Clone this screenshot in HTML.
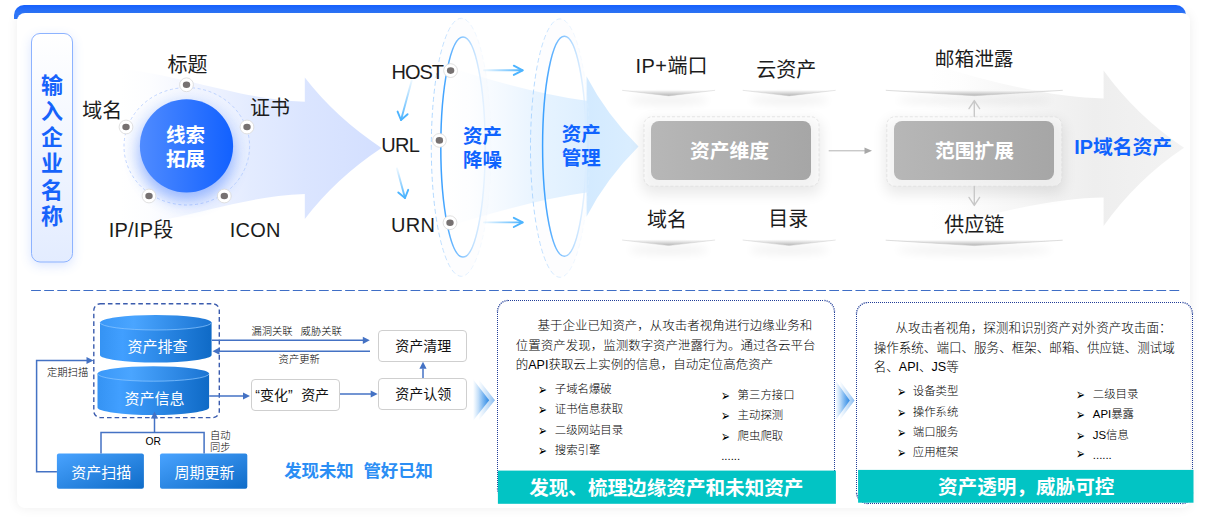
<!DOCTYPE html>
<html lang="zh-CN">
<head>
<meta charset="utf-8">
<title>资产管理流程</title>
<style>
html,body{margin:0;padding:0;}
body{width:1207px;height:521px;position:relative;overflow:hidden;background:#fff;
  font-family:"Liberation Sans","Noto Sans CJK SC",sans-serif;color:#1f1f1f;}
#bluebar{position:absolute;left:14px;top:5px;width:1172px;height:13.5px;border-radius:10px 10px 0 0;
  background:linear-gradient(180deg,#1761ff,#2f77fa 8px);}
#card{position:absolute;left:16.5px;top:12.5px;width:1173.5px;height:495.5px;border-radius:8px;background:#fff;
  box-shadow:0 0 12px rgba(0,0,0,0.07);}
#art{position:absolute;left:0;top:0;width:1207px;height:521px;}
.t{position:absolute;white-space:nowrap;line-height:1;transform:translate(-50%,-50%);}
.l{position:absolute;white-space:nowrap;line-height:1;transform:translate(0,-50%);}
.big{font-size:20px;color:#1c1c1c;}
.bb{font-size:19.5px;font-weight:700;color:#0f63fe;line-height:24px;text-align:center;}
.wb{font-size:19.8px;font-weight:700;color:#fff;}
.sm{font-size:10.3px;color:#000;font-weight:300;}
.bx{position:absolute;box-sizing:border-box;border:1px solid #cfcfcf;border-radius:4px;background:#fff;}
.bt{font-size:14px;color:#111;}
.cw{font-size:15px;color:#fff;font-weight:400;}
.para{position:absolute;font-size:12.45px;line-height:19.3px;color:#000;font-weight:300;white-space:nowrap;}
.bl{font-size:11.4px;color:#000;font-weight:300;}
.ar{font-size:11.5px;color:#000;font-family:"DejaVu Sans",sans-serif;transform:translate(0,-50%) scale(0.92,1.4);transform-origin:0 50%;}
.teal{position:absolute;background:#02c4c4;}
.tt{font-size:19.6px;font-weight:700;color:#fff;}
.dot{position:absolute;box-sizing:border-box;border:1px dotted #1d3c96;border-radius:11px;}
</style>
</head>
<body>
<div id="bluebar"></div>
<div id="card"></div>

<svg id="art" viewBox="0 0 1207 521" width="1207" height="521">
<defs>
  <linearGradient id="gPill" x1="0" y1="0" x2="0" y2="1">
    <stop offset="0" stop-color="#ffffff"/><stop offset="1" stop-color="#e3ecff"/>
  </linearGradient>
  <linearGradient id="gCirc" x1="0" y1="0" x2="1" y2="0">
    <stop offset="0" stop-color="#4f8bff"/><stop offset="1" stop-color="#1261ff"/>
  </linearGradient>
  <radialGradient id="gHalo" cx="0.5" cy="0.5" r="0.5">
    <stop offset="0.7" stop-color="#d6e3ff"/><stop offset="1" stop-color="#f3f7ff" stop-opacity="0.6"/>
  </radialGradient>
  <linearGradient id="gArrow1" gradientUnits="userSpaceOnUse" x1="120" y1="0" x2="382" y2="0">
    <stop offset="0" stop-color="#e9efff" stop-opacity="0"/>
    <stop offset="0.12" stop-color="#e6edff" stop-opacity="0.12"/>
    <stop offset="0.3" stop-color="#e4ebff" stop-opacity="0.55"/>
    <stop offset="0.5" stop-color="#e0e9ff" stop-opacity="0.9"/>
    <stop offset="0.7" stop-color="#dbe5ff"/>
    <stop offset="1" stop-color="#d3dfff"/>
  </linearGradient>
  <linearGradient id="gArrow2" gradientUnits="userSpaceOnUse" x1="445" y1="0" x2="640" y2="0">
    <stop offset="0" stop-color="#e6f2ff" stop-opacity="0"/>
    <stop offset="0.13" stop-color="#e6f2ff" stop-opacity="0.1"/>
    <stop offset="0.28" stop-color="#e6f2ff" stop-opacity="0.42"/>
    <stop offset="0.49" stop-color="#e2f1ff" stop-opacity="0.85"/>
    <stop offset="0.723" stop-color="#deefff"/>
    <stop offset="0.73" stop-color="#d3eaff"/>
    <stop offset="1" stop-color="#dbeeff"/>
  </linearGradient>
  <linearGradient id="gArrow3" gradientUnits="userSpaceOnUse" x1="930" y1="0" x2="1184" y2="0">
    <stop offset="0" stop-color="#ededed" stop-opacity="0"/>
    <stop offset="0.12" stop-color="#ededed" stop-opacity="0.1"/>
    <stop offset="0.4" stop-color="#eeeeee" stop-opacity="0.6"/>
    <stop offset="0.65" stop-color="#eeeeee"/>
    <stop offset="1" stop-color="#f3f3f3"/>
  </linearGradient>
  <linearGradient id="gEll" x1="0" y1="0" x2="1" y2="0">
    <stop offset="0" stop-color="#3aa0ff"/><stop offset="0.5" stop-color="#8cc8ff"/><stop offset="1" stop-color="#dcedff" stop-opacity="0.6"/>
  </linearGradient>
  <linearGradient id="gEllD" x1="0" y1="0" x2="1" y2="0">
    <stop offset="0" stop-color="#a6d2ff"/><stop offset="0.6" stop-color="#d6eaff" stop-opacity="0.7"/><stop offset="1" stop-color="#eef6ff" stop-opacity="0.2"/>
  </linearGradient>
  <linearGradient id="gGray" x1="0" y1="0" x2="1" y2="0">
    <stop offset="0" stop-color="#b7b7b7"/><stop offset="1" stop-color="#a6a6a6"/>
  </linearGradient>
  <linearGradient id="gShelf" x1="0" y1="0" x2="0" y2="1">
    <stop offset="0" stop-color="#fafafa"/><stop offset="1" stop-color="#b4b4b4"/>
  </linearGradient>
  <linearGradient id="gCyl" x1="0" y1="0" x2="1" y2="0">
    <stop offset="0" stop-color="#3593f3"/><stop offset="0.2" stop-color="#419fff"/><stop offset="1" stop-color="#0f6ac6"/>
  </linearGradient>
  <linearGradient id="gCylTop" x1="0" y1="0" x2="1" y2="0">
    <stop offset="0" stop-color="#3a98f8"/><stop offset="0.3" stop-color="#4aa5ff"/><stop offset="1" stop-color="#1a74d2"/>
  </linearGradient>
  <linearGradient id="gBox" x1="0" y1="0" x2="1" y2="1">
    <stop offset="0" stop-color="#49a3ff"/><stop offset="1" stop-color="#0f6cc8"/>
  </linearGradient>
  <linearGradient id="gChev" x1="0" y1="0" x2="1" y2="0">
    <stop offset="0" stop-color="#5aa8f0" stop-opacity="0"/><stop offset="1" stop-color="#2a86e4"/>
  </linearGradient>
  <linearGradient id="gLAh" gradientUnits="userSpaceOnUse" x1="484" y1="0" x2="522" y2="0">
    <stop offset="0" stop-color="#4db4ff" stop-opacity="0.1"/><stop offset="1" stop-color="#4db4ff"/>
  </linearGradient>
  <linearGradient id="gLA" gradientUnits="objectBoundingBox" x1="0" y1="0" x2="1" y2="0">
    <stop offset="0" stop-color="#4db4ff" stop-opacity="0.1"/><stop offset="1" stop-color="#4db4ff"/>
  </linearGradient>
  <linearGradient id="gLAv" gradientUnits="objectBoundingBox" x1="0" y1="0" x2="0" y2="1">
    <stop offset="0" stop-color="#4db4ff" stop-opacity="0.1"/><stop offset="1" stop-color="#4db4ff"/>
  </linearGradient>
  <filter id="fGlow" x="-30%" y="-30%" width="160%" height="170%">
    <feGaussianBlur stdDeviation="6"/>
  </filter>
  <filter id="fGlow2" x="-40%" y="-40%" width="180%" height="180%">
    <feGaussianBlur stdDeviation="8"/>
  </filter>
  <filter id="fSoft" x="-30%" y="-100%" width="160%" height="400%">
    <feGaussianBlur stdDeviation="4"/>
  </filter>
  <filter id="fBox2" x="-20%" y="-40%" width="140%" height="200%">
    <feGaussianBlur stdDeviation="7"/>
  </filter>
  <filter id="fBox" x="-20%" y="-40%" width="140%" height="200%">
    <feGaussianBlur stdDeviation="5"/>
  </filter>
  <g id="node">
    <circle r="6.9" fill="#fff" stroke="#d8d8d8" stroke-width="0.8"/>
    <ellipse rx="3.7" ry="3.3" fill="#767171"/>
  </g>
  <g id="shelfS">
    <ellipse cx="0" cy="10" rx="40" ry="5" fill="#000" opacity="0.052" filter="url(#fSoft)"/>
    <path d="M-46.5 0 L46.5 0 L0 5.6 Z" fill="url(#gShelf)"/>
    <path d="M-46.5 0 L0 5.6 L46.5 0" fill="none" stroke="#cfcfcf" stroke-width="0.5"/>
  </g>
  <g id="shelfW">
    <ellipse cx="0" cy="10" rx="78" ry="5" fill="#000" opacity="0.052" filter="url(#fSoft)"/>
    <path d="M-88.5 0 L88.5 0 L0 5.4 Z" fill="url(#gShelf)"/>
    <path d="M-88.5 0 L0 5.4 L88.5 0" fill="none" stroke="#c8c8c8" stroke-width="0.6"/>
  </g>
  <path id="ah" d="M0 0 L-7 -3.6 L-7 3.6 Z" fill="#4472c4"/>
</defs>

<!-- ===== TOP: pill ===== -->
<rect x="31.5" y="37" width="41" height="228" rx="8" fill="#4a7dff" opacity="0.22" filter="url(#fGlow)"/>
<rect x="31.5" y="33.5" width="41" height="228.5" rx="8.5" fill="url(#gPill)" stroke="#8db3ff" stroke-width="1"/>

<!-- ===== big arrow 1 ===== -->
<path d="M120 68 C200 80 240 99 304.8 101.8 L304.8 77.6 Q336 118 381.5 147.9 Q336 178 304.8 218.9 L304.8 194 C240 196.8 200 215.8 120 227.8 Z" fill="url(#gArrow1)"/>

<!-- halo + ring + circle -->
<ellipse cx="186.8" cy="146.3" rx="62" ry="58" fill="url(#gHalo)" opacity="0.55"/>
<ellipse cx="186.8" cy="146.3" rx="62.8" ry="58.7" fill="none" stroke="#b4cbff" stroke-width="0.8" stroke-dasharray="3 2.6"/>
<circle cx="186.5" cy="155" r="47" fill="#2a6bff" opacity="0.42" filter="url(#fGlow2)"/>
<circle cx="186.5" cy="145.9" r="46.6" fill="url(#gCirc)"/>
<use href="#node" x="186.5" y="84.8"/>
<use href="#node" x="126" y="127"/>
<use href="#node" x="247" y="127"/>
<use href="#node" x="149" y="196"/>
<use href="#node" x="224.3" y="196"/>

<!-- ===== ellipses + arrow 2 ===== -->
<ellipse cx="461.3" cy="147.3" rx="30" ry="129" fill="#f0f4fa" opacity="0.15"/>
<ellipse cx="463" cy="147.1" rx="22.2" ry="110" fill="#ffffff"/>
<ellipse cx="560" cy="148.1" rx="29.5" ry="129.2" fill="#f0f4fa" opacity="0.15"/>
<ellipse cx="564.4" cy="146.3" rx="21.8" ry="110" fill="#ffffff"/>
<path d="M445 66 Q530 93 586.5 100.8 L586.5 76.3 Q606 114 638.5 146.6 Q606 179 586.5 216.7 L586.5 192.6 Q530 200.4 445 227.4 Z" fill="url(#gArrow2)"/>
<ellipse cx="461.3" cy="147.3" rx="30" ry="129" fill="none" stroke="url(#gEllD)" stroke-width="0.9" stroke-dasharray="5 3"/>
<ellipse cx="463" cy="147.1" rx="22.2" ry="110" fill="none" stroke="url(#gEll)" stroke-width="1.5"/>
<ellipse cx="560" cy="148.1" rx="29.5" ry="129.2" fill="none" stroke="url(#gEllD)" stroke-width="0.9" stroke-dasharray="5 3"/>
<ellipse cx="564.4" cy="146.3" rx="21.8" ry="110" fill="none" stroke="url(#gEll)" stroke-width="1.5"/>
<use href="#node" x="450.6" y="70.6"/>
<use href="#node" x="439.4" y="140.4"/>
<use href="#node" x="450" y="222.7"/>

<!-- light blue thin arrows -->
<g fill="none" stroke-width="1.9" stroke-linecap="round" stroke-linejoin="round">
  <path d="M484 70.3 H522.5" stroke="url(#gLAh)"/>
  <path d="M513.8 65.7 L522.7 70.3 L513.8 74.9" stroke="#4db4ff"/>
  <path d="M484 222.4 H522.5" stroke="url(#gLAh)"/>
  <path d="M513.8 217.8 L522.7 222.4 L513.8 227" stroke="#4db4ff"/>
  <path d="M411.7 80.5 L401 120" stroke="url(#gLAv)"/>
  <path d="M397.6 111.6 L401 120 L407.6 114.2" stroke="#4db4ff"/>
  <path d="M397 168.4 L405 198" stroke="url(#gLAv)"/>
  <path d="M398.3 192.4 L405 198 L408.2 189.8" stroke="#4db4ff"/>
</g>

<!-- ===== gray arrow 3 ===== -->
<path d="M930 63.7 Q1040 97.7 1103.6 98.4 L1103.6 70.4 Q1136 115.4 1184 147.7 Q1136 180 1103.6 226 L1103.6 197.4 Q1040 197.7 930 231.7 Z" fill="url(#gArrow3)"/>

<!-- shelves -->
<use href="#shelfS" x="668.6" y="90.3"/>
<use href="#shelfS" x="789.2" y="90.3"/>
<use href="#shelfS" x="668.6" y="240"/>
<use href="#shelfS" x="789.2" y="240"/>
<use href="#shelfW" x="974.3" y="90.3"/>
<use href="#shelfW" x="974.2" y="240.2"/>

<!-- gray boxes -->
<rect x="642" y="120" width="179" height="74" rx="10" fill="#000" opacity="0.085" filter="url(#fBox2)"/>
<rect x="644" y="116.8" width="175" height="69.4" rx="8" fill="#fff" fill-opacity="0.45" stroke="#dcdcdc" stroke-width="0.7" stroke-dasharray="3 2"/>
<rect x="651" y="121" width="160" height="59" rx="8" fill="url(#gGray)"/>
<rect x="885" y="120" width="179" height="74" rx="10" fill="#000" opacity="0.085" filter="url(#fBox2)"/>
<rect x="886.8" y="116.8" width="175" height="69.4" rx="8" fill="#fff" fill-opacity="0.45" stroke="#dcdcdc" stroke-width="0.7" stroke-dasharray="3 2"/>
<rect x="894" y="121" width="160" height="59" rx="8" fill="url(#gGray)"/>
<!-- gray small arrows -->
<path d="M828.7 150.8 H866" stroke="#b3b3b3" stroke-width="1" fill="none"/>
<path d="M872 150.8 L864.5 147.6 L864.5 154 Z" fill="#a8a8a8"/>
<g fill="none" stroke="#c8c8c8" stroke-width="1.4" stroke-linecap="round" stroke-linejoin="round">
  <path d="M974.3 116.5 V101 M969 108.6 L974.3 100.6 L979.6 108.6"/>
  <path d="M974.3 186.5 V205 M969 197.4 L974.3 205.4 L979.6 197.4"/>
</g>

<!-- ===== separator ===== -->
<path d="M31.1 290.5 H1179.2" stroke="#3f6ec6" stroke-width="1.15" stroke-dasharray="9.75 3.335" fill="none"/>

<!-- ===== bottom-left diagram ===== -->
<rect x="93.8" y="303.8" width="125.5" height="113.8" rx="6.5" fill="none" stroke="#3b5cae" stroke-width="1.4" stroke-dasharray="4.6 3"/>
<!-- cylinder 1 -->
<path d="M100 322.5 V355 A55.8 7.5 0 0 0 211.6 355 V322.5 Z" fill="url(#gCyl)"/>
<ellipse cx="155.8" cy="322.5" rx="55.8" ry="7.5" fill="url(#gCylTop)"/>
<path d="M100 322.5 A55.8 7.5 0 0 0 211.6 322.5" fill="none" stroke="#8cc6ff" stroke-width="0.8" opacity="0.9"/>
<!-- cylinder 2 -->
<path d="M97.5 373.7 V407.5 A55.8 7.5 0 0 0 209.1 407.5 V373.7 Z" fill="url(#gCyl)"/>
<ellipse cx="153.3" cy="373.7" rx="55.8" ry="7.5" fill="url(#gCylTop)"/>
<path d="M97.5 373.7 A55.8 7.5 0 0 0 209.1 373.7" fill="none" stroke="#8cc6ff" stroke-width="0.8" opacity="0.9"/>
<!-- boxes -->
<rect x="56.9" y="453.4" width="87" height="35.3" rx="2" fill="url(#gBox)"/>
<rect x="160" y="453.4" width="87.3" height="35.3" rx="2" fill="url(#gBox)"/>
<!-- connectors -->
<g fill="none" stroke="#4472c4" stroke-width="1.5">
  <path d="M56.9 471.8 H36.6 V360.5 H87"/>
  <path d="M101 453.4 V432.5 H204.1 V453.4"/>
  <path d="M154.5 432.5 V418"/>
  <path d="M211.8 340.3 H363"/>
  <path d="M370 351.2 H219"/>
  <path d="M209.2 396 H243"/>
  <path d="M339.4 394 H371"/>
  <path d="M423 378 V368.5"/>
</g>
<use href="#ah" x="93.5" y="360.5"/>
<use href="#ah" transform="translate(154.5 411.4) rotate(-90)"/>
<use href="#ah" x="369.8" y="340.3"/>
<use href="#ah" transform="translate(212.5 351.2) rotate(180)"/>
<use href="#ah" x="250" y="396"/>
<use href="#ah" x="377.7" y="394"/>
<use href="#ah" transform="translate(423 361.7) rotate(-90)"/>

<!-- dotted panels + teal bars -->
<g fill="none" stroke="#213d98" stroke-width="1">
  <path d="M508 300.5 H824 M508 499.5 H824 M497.5 312 V488 M834.5 312 V488" stroke-dasharray="1 1"/>
  <path d="M497.5 312 A10.5 11.5 0 0 1 508 300.5 M824 300.5 A10.5 11.5 0 0 1 834.5 312 M834.5 488 A10.5 11.5 0 0 1 824 499.5 M508 499.5 A10.5 11.5 0 0 1 497.5 488" stroke-dasharray="1.15 1.01" stroke-width="1.35" stroke-dashoffset="-0.5"/>
  <path d="M868 302.5 H1182 M868 503.5 H1182 M856.5 314 V492 M1192.5 314 V492" stroke-dasharray="1 1"/>
  <path d="M856.5 314 A11.5 11.5 0 0 1 868 302.5 M1182 302.5 A10.5 11.5 0 0 1 1192.5 314 M1192.5 492 A10.5 11.5 0 0 1 1182 503.5 M868 503.5 A11.5 11.5 0 0 1 856.5 492" stroke-dasharray="1.15 1.01" stroke-width="1.35" stroke-dashoffset="-0.5"/>
</g>
<rect x="497.9" y="470.6" width="338" height="33.2" fill="#02c4c4"/>
<rect x="858.1" y="469.9" width="335.4" height="32.8" fill="#02c4c4"/>

<!-- chevrons -->
<path d="M473 379.2 L489.2 400.2 L473 420.7 Z" fill="url(#gChev)"/>
<path d="M478.4 379.2 L495 400.2 L478.4 420.7 Z" fill="url(#gChev)" opacity="0.55"/>
<path d="M835.2 380 L849.8 400.5 L835.2 420.8 Z" fill="url(#gChev)"/>
<path d="M839.4 380 L854.6 400.5 L839.4 420.8 Z" fill="url(#gChev)" opacity="0.55"/>
</svg>

<!-- ===== TEXT: top ===== -->
<div class="t" style="left:52px;top:151.7px;width:42px;white-space:normal;text-align:center;font-size:22px;font-weight:700;color:#1763fb;line-height:26.2px;">输<br>入<br>企<br>业<br>名<br>称</div>
<div class="t bb" style="left:185.6px;top:146.5px;color:#fff;line-height:24.3px;">线索<br>拓展</div>
<div class="t big" style="left:187.5px;top:64.5px;">标题</div>
<div class="t big" style="left:102.2px;top:110.5px;">域名</div>
<div class="t big" style="left:270px;top:108px;">证书</div>
<div class="t big" style="left:141px;top:229.8px;"><span style="letter-spacing:0.2px">IP/IP</span>段</div>
<div class="t big" style="left:255.2px;top:229.8px;letter-spacing:0.2px;">ICON</div>
<div class="t big" style="left:417.3px;top:72.2px;letter-spacing:-1px;">HOST</div>
<div class="t big" style="left:400.3px;top:144.6px;letter-spacing:-0.6px;">URL</div>
<div class="t big" style="left:413.2px;top:225.2px;letter-spacing:0.3px;">URN</div>
<div class="t bb" style="left:482.5px;top:148px;">资产<br>降噪</div>
<div class="t bb" style="left:581.3px;top:146.2px;">资产<br>管理</div>
<div class="t big" style="left:671.5px;top:66px;"><span style="letter-spacing:0.4px">IP+</span>端口</div>
<div class="t big" style="left:786.2px;top:70px;">云资产</div>
<div class="t big" style="left:667px;top:220px;">域名</div>
<div class="t big" style="left:788.3px;top:219.1px;">目录</div>
<div class="t wb" style="left:729.6px;top:152.3px;">资产维度</div>
<div class="t wb" style="left:974.6px;top:151.9px;">范围扩展</div>
<div class="t big" style="left:974.2px;top:59.5px;font-size:19.7px;">邮箱泄露</div>
<div class="t big" style="left:974.2px;top:224.6px;">供应链</div>
<div class="t bb" style="left:1123.2px;top:146.8px;font-size:19.8px;">IP域名资产</div>

<!-- ===== TEXT: bottom-left ===== -->
<div class="t cw" style="left:157.5px;top:346.2px;">资产排查</div>
<div class="t cw" style="left:154.4px;top:398px;">资产信息</div>
<div class="t cw" style="left:101.2px;top:472.2px;">资产扫描</div>
<div class="t cw" style="left:204.6px;top:472.2px;">周期更新</div>
<div class="t sm" style="left:67.6px;top:373.2px;">定期扫描</div>
<div class="t sm" style="left:296.6px;top:332.1px;">漏洞关联<span style="margin-left:8px;">威胁关联</span></div>
<div class="t sm" style="left:299.2px;top:360px;">资产更新</div>
<div class="t sm" style="left:153.2px;top:441.6px;">OR</div>
<div class="t sm" style="left:220.3px;top:441.9px;line-height:11.9px;text-align:center;">自动<br>同步</div>
<div class="bx" style="left:377.8px;top:329.8px;width:89.4px;height:32px;"></div>
<div class="bx" style="left:377.8px;top:377.8px;width:89.4px;height:32px;"></div>
<div class="bx" style="left:251px;top:378.8px;width:88.6px;height:32px;"></div>
<div class="t bt" style="left:423.2px;top:346.2px;">资产清理</div>
<div class="t bt" style="left:423.2px;top:393.7px;">资产认领</div>
<div class="l bt" style="left:255.3px;top:394.8px;">“变化”<span style="margin-left:8.5px;">资产</span></div>
<div class="t" style="left:358.6px;top:471.6px;font-size:17.4px;font-weight:700;color:#2b8ef4;">发现未知&nbsp; 管好已知</div>

<!-- ===== TEXT: middle panel ===== -->
<div class="para" style="left:515.8px;top:317.3px;font-size:12.49px;"><span style="padding-left:21.7px;">基于企业已知资产，从攻击者视角进行边缘业务和</span><br>位置资产发现，监测数字资产泄露行为。通过各云平台<br>的API获取云上实例的信息，自动定位高危资产</div>
<div class="l ar" style="left:537.6px;top:390.1px;">➢</div><div class="l bl" style="left:554.8px;top:390.1px;">子域名爆破</div>
<div class="l ar" style="left:537.6px;top:410.4px;">➢</div><div class="l bl" style="left:554.8px;top:410.4px;">证书信息获取</div>
<div class="l ar" style="left:537.6px;top:430.7px;">➢</div><div class="l bl" style="left:554.8px;top:430.7px;">二级网站目录</div>
<div class="l ar" style="left:537.6px;top:451.0px;">➢</div><div class="l bl" style="left:554.8px;top:451.0px;">搜索引擎</div>
<div class="l ar" style="left:721.2px;top:395.9px;">➢</div><div class="l bl" style="left:737.6px;top:395.9px;">第三方接口</div>
<div class="l ar" style="left:721.2px;top:416.3px;">➢</div><div class="l bl" style="left:737.6px;top:416.3px;">主动探测</div>
<div class="l ar" style="left:721.2px;top:437.0px;">➢</div><div class="l bl" style="left:737.6px;top:437.0px;">爬虫爬取</div>
<div class="l bl" style="left:721.2px;top:456.5px;">......</div>
<div class="t tt" style="left:666.3px;top:488.6px;">发现、梳理边缘资产和未知资产</div>

<!-- ===== TEXT: right panel ===== -->
<div class="para" style="left:873.7px;top:319.3px;font-size:12.56px;"><span style="padding-left:21.8px;">从攻击者视角，探测和识别资产对外资产攻击面：</span><br>操作系统、端口、服务、框架、邮箱、供应链、测试域<br>名、API、JS等</div>
<div class="l ar" style="left:897.2px;top:392.35px;">➢</div><div class="l bl" style="left:912.8px;top:392.35px;">设备类型</div>
<div class="l ar" style="left:897.2px;top:412.9px;">➢</div><div class="l bl" style="left:912.8px;top:412.9px;">操作系统</div>
<div class="l ar" style="left:897.2px;top:433.2px;">➢</div><div class="l bl" style="left:912.8px;top:433.2px;">端口服务</div>
<div class="l ar" style="left:897.2px;top:452.6px;">➢</div><div class="l bl" style="left:912.8px;top:452.6px;">应用框架</div>
<div class="l ar" style="left:1076.4px;top:395.4px;">➢</div><div class="l bl" style="left:1092.8px;top:395.4px;">二级目录</div>
<div class="l ar" style="left:1076.4px;top:415.45px;">➢</div><div class="l bl" style="left:1092.8px;top:415.45px;">API暴露</div>
<div class="l ar" style="left:1076.4px;top:436.0px;">➢</div><div class="l bl" style="left:1092.8px;top:436.0px;">JS信息</div>
<div class="l ar" style="left:1076.4px;top:454.3px;">➢</div><div class="l bl" style="left:1092.8px;top:455.9px;">......</div>
<div class="t tt" style="left:1026.2px;top:488.2px;">资产透明，威胁可控</div>
</body>
</html>
